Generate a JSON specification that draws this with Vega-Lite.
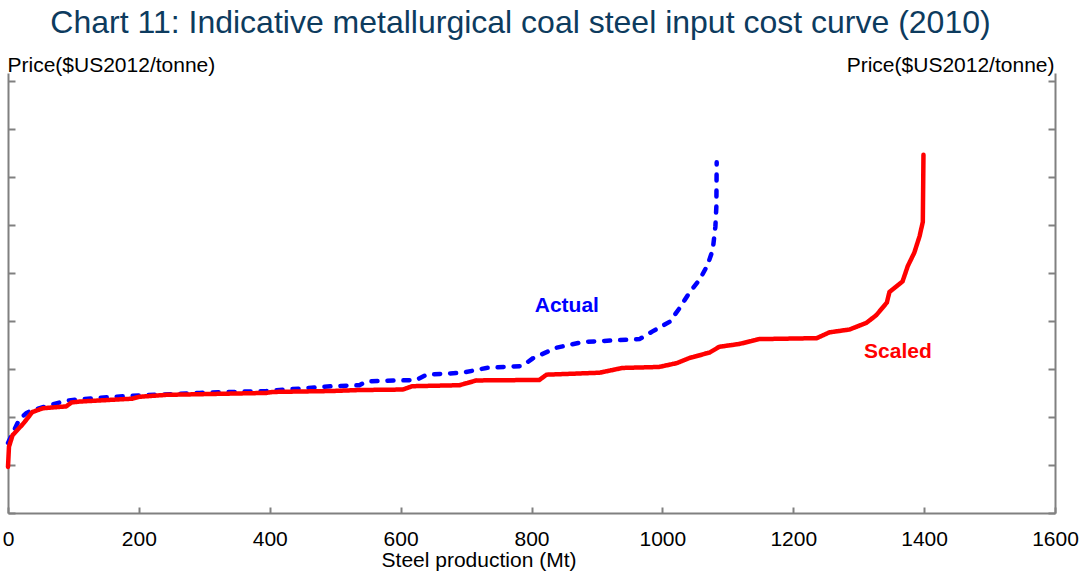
{
  "$schema": "https://vega.github.io/schema/vega-lite/v6.json",
  "width": 1047,
  "height": 440,
  "autosize": {"type": "none"},
  "padding": {"left": 8, "top": 73, "right": 26, "bottom": 58},
  "title": {
    "text": "Chart 11: Indicative metallurgical coal steel input cost curve (2010)",
    "font": "Liberation Sans",
    "fontSize": 32,
    "fontWeight": "normal",
    "color": "#0d3b5e",
    "anchor": "middle",
    "dx": -11,
    "offset": 14
  },
  "config": {
    "view": {"stroke": null},
    "axis": {
      "labelFont": "Liberation Sans",
      "titleFont": "Liberation Sans",
      "labelColor": "#000000",
      "titleColor": "#000000",
      "titleFontWeight": "normal",
      "domainColor": "#808080",
      "tickColor": "#808080",
      "domainWidth": 2,
      "tickWidth": 2,
      "grid": false
    }
  },
  "resolve": {"axis": {"y": "independent"}},
  "layer": [
    {
      "data": {
        "values": [
          {"series": "Actual", "x": 0, "y": 73},
          {"series": "Actual", "x": 17, "y": 97},
          {"series": "Actual", "x": 28, "y": 104},
          {"series": "Actual", "x": 37, "y": 107},
          {"series": "Actual", "x": 63, "y": 112},
          {"series": "Actual", "x": 89, "y": 117},
          {"series": "Actual", "x": 140, "y": 120},
          {"series": "Actual", "x": 190, "y": 122},
          {"series": "Actual", "x": 293, "y": 125},
          {"series": "Actual", "x": 395, "y": 127},
          {"series": "Actual", "x": 496, "y": 132},
          {"series": "Actual", "x": 537, "y": 133},
          {"series": "Actual", "x": 548, "y": 137},
          {"series": "Actual", "x": 624, "y": 138.5},
          {"series": "Actual", "x": 640, "y": 144},
          {"series": "Actual", "x": 695, "y": 146},
          {"series": "Actual", "x": 731, "y": 151},
          {"series": "Actual", "x": 786, "y": 153},
          {"series": "Actual", "x": 802, "y": 161},
          {"series": "Actual", "x": 838, "y": 172},
          {"series": "Actual", "x": 878, "y": 178},
          {"series": "Actual", "x": 965, "y": 181},
          {"series": "Actual", "x": 985, "y": 189},
          {"series": "Actual", "x": 1011, "y": 199},
          {"series": "Actual", "x": 1026, "y": 213},
          {"series": "Actual", "x": 1041, "y": 229},
          {"series": "Actual", "x": 1057, "y": 243},
          {"series": "Actual", "x": 1069, "y": 258},
          {"series": "Actual", "x": 1077, "y": 274},
          {"series": "Actual", "x": 1081, "y": 298},
          {"series": "Actual", "x": 1082.5, "y": 319},
          {"series": "Actual", "x": 1083, "y": 365},
          {"series": "Scaled", "x": 0, "y": 48},
          {"series": "Scaled", "x": 1.5, "y": 69},
          {"series": "Scaled", "x": 7, "y": 81},
          {"series": "Scaled", "x": 22, "y": 92},
          {"series": "Scaled", "x": 28, "y": 97},
          {"series": "Scaled", "x": 37, "y": 105},
          {"series": "Scaled", "x": 53, "y": 109},
          {"series": "Scaled", "x": 89, "y": 111},
          {"series": "Scaled", "x": 97, "y": 115},
          {"series": "Scaled", "x": 109, "y": 116},
          {"series": "Scaled", "x": 190, "y": 119},
          {"series": "Scaled", "x": 201, "y": 121},
          {"series": "Scaled", "x": 242, "y": 123},
          {"series": "Scaled", "x": 395, "y": 125},
          {"series": "Scaled", "x": 404, "y": 126},
          {"series": "Scaled", "x": 496, "y": 127},
          {"series": "Scaled", "x": 537, "y": 128},
          {"series": "Scaled", "x": 603, "y": 128.5},
          {"series": "Scaled", "x": 618, "y": 132},
          {"series": "Scaled", "x": 690, "y": 133},
          {"series": "Scaled", "x": 716, "y": 138},
          {"series": "Scaled", "x": 812, "y": 138.5},
          {"series": "Scaled", "x": 823, "y": 144},
          {"series": "Scaled", "x": 904, "y": 146},
          {"series": "Scaled", "x": 939, "y": 151},
          {"series": "Scaled", "x": 995, "y": 152},
          {"series": "Scaled", "x": 1022, "y": 156},
          {"series": "Scaled", "x": 1040, "y": 161},
          {"series": "Scaled", "x": 1072, "y": 167},
          {"series": "Scaled", "x": 1087, "y": 173},
          {"series": "Scaled", "x": 1118, "y": 176},
          {"series": "Scaled", "x": 1148, "y": 181},
          {"series": "Scaled", "x": 1236, "y": 182},
          {"series": "Scaled", "x": 1255, "y": 188},
          {"series": "Scaled", "x": 1286, "y": 191},
          {"series": "Scaled", "x": 1312, "y": 198},
          {"series": "Scaled", "x": 1327, "y": 206},
          {"series": "Scaled", "x": 1343, "y": 219},
          {"series": "Scaled", "x": 1347, "y": 230},
          {"series": "Scaled", "x": 1367, "y": 241},
          {"series": "Scaled", "x": 1375, "y": 257},
          {"series": "Scaled", "x": 1385, "y": 271},
          {"series": "Scaled", "x": 1393, "y": 288},
          {"series": "Scaled", "x": 1398, "y": 303},
          {"series": "Scaled", "x": 1399, "y": 373}
        ]
      },
      "mark": {"type": "line", "strokeWidth": 4.5, "strokeCap": "round"},
      "encoding": {
        "x": {
          "field": "x",
          "type": "quantitative",
          "scale": {"domain": [0, 1600], "nice": false},
          "axis": {
            "values": [0, 200, 400, 600, 800, 1000, 1200, 1400, 1600],
            "format": "d",
            "tickSize": -6,
            "labelPadding": 21,
            "labelFontSize": 21,
            "labelFlush": false,
            "labelOverlap": false,
            "title": "Steel production (Mt)",
            "titleFontSize": 21,
            "titleX": 470.5,
            "titleY": 53,
            "titleAlign": "center",
            "titleBaseline": "alphabetic"
          }
        },
        "y": {
          "field": "y",
          "type": "quantitative",
          "scale": {"domain": [0, 458], "nice": false, "zero": false},
          "axis": {
            "orient": "left",
            "values": [0, 50, 100, 150, 200, 250, 300, 350, 400, 450],
            "labels": false,
            "tickSize": -7,
            "title": "Price($US2012/tonne)",
            "titleFontSize": 21,
            "titleAngle": 0,
            "titleAlign": "left",
            "titleBaseline": "alphabetic",
            "titleX": -1,
            "titleY": -2
          }
        },
        "color": {
          "field": "series",
          "type": "nominal",
          "scale": {"domain": ["Actual", "Scaled"], "range": ["#0000ff", "#ff0000"]},
          "legend": null
        },
        "strokeDash": {
          "field": "series",
          "type": "nominal",
          "scale": {"domain": ["Actual", "Scaled"], "range": [[6, 10], [1, 0]]},
          "legend": null
        }
      }
    },
    {
      "data": {
        "values": [
          {"series": "Actual", "label": "Actual", "x": 854, "y": 215.6},
          {"series": "Scaled", "label": "Scaled", "x": 1360, "y": 167.7}
        ]
      },
      "mark": {"type": "text", "font": "Liberation Sans", "fontSize": 21, "fontWeight": "bold", "align": "center", "baseline": "middle"},
      "encoding": {
        "x": {"field": "x", "type": "quantitative"},
        "y": {
          "field": "y",
          "type": "quantitative",
          "axis": {
            "orient": "right",
            "values": [0, 50, 100, 150, 200, 250, 300, 350, 400, 450],
            "labels": false,
            "tickSize": -7,
            "title": "Price($US2012/tonne)",
            "titleFontSize": 21,
            "titleAngle": 0,
            "titleAlign": "right",
            "titleBaseline": "alphabetic",
            "titleX": -1,
            "titleY": -2
          }
        },
        "text": {"field": "label"},
        "color": {"field": "series", "type": "nominal", "legend": null}
      }
    }
  ]
}
